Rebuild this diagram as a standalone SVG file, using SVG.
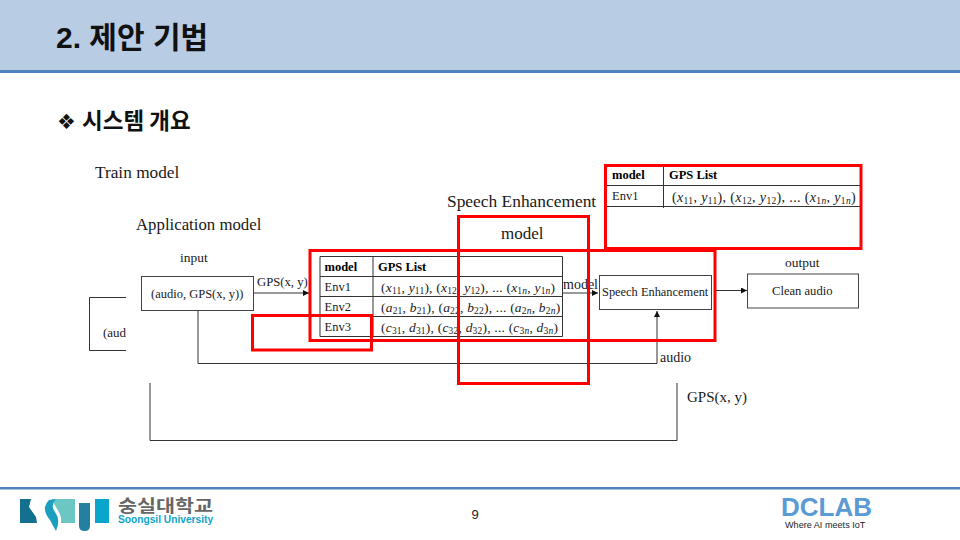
<svg xmlns="http://www.w3.org/2000/svg" width="960" height="540" viewBox="0 0 960 540">
<style>
.s{font-family:"Liberation Serif","Noto Sans CJK KR",serif;fill:#1a1a1a}
.b{font-weight:bold;font-size:12.5px;fill:#000}
.m{font-family:"Liberation Serif",serif;font-size:13.5px;fill:#1a1a1a;letter-spacing:.2px}
.t{font-size:14px;letter-spacing:.35px}
.m .i{font-style:italic}
.u{font-size:9.5px}
.box{fill:#fff;stroke:#444;stroke-width:1}
.ln{fill:none;stroke:#333;stroke-width:1}
.red{fill:none;stroke:#f00;stroke-width:3}
.k{font-family:"Noto Sans CJK KR","Liberation Sans",sans-serif;font-weight:bold;fill:#111}
</style>
<defs>
<marker id="a" markerWidth="7" markerHeight="6" refX="6" refY="3" orient="auto" markerUnits="userSpaceOnUse"><path d="M0 0L6 3L0 6Z" fill="#111"/></marker>
</defs>
<rect width="960" height="71" fill="#b8cce4"/>
<rect y="70" width="960" height="3" fill="#4f81bd"/>
<text class="k" x="56" y="48" font-size="30" style="font-family:'Liberation Sans','Noto Sans CJK KR',sans-serif">2. 제안 기법</text>
<text class="k" x="57" y="129" font-size="21" style="font-family:'DejaVu Sans',sans-serif">❖</text>
<text class="k" x="82" y="129" font-size="22.500">시스템 개요</text>

<g id="connectors">
<path class="ln" d="M254 293H309" marker-end="url(#a)"/>
<path class="ln" d="M563 293H598" marker-end="url(#a)"/>
<path class="ln" d="M716 290.500H747" marker-end="url(#a)"/>
<path class="ln" d="M198 310.500V363.500H657V311" marker-end="url(#a)"/>
<path class="ln" d="M150 383V440.500H677V383"/>
</g>

<g id="left-box">
<path class="ln" d="M126 297.500H89.500V350.500H126"/>
<text class="s" x="103" y="337" font-size="13">(aud</text>
</g>
<g id="input-node">
<rect class="box" x="141.500" y="276.500" width="112" height="34"/>
<text class="s" x="151" y="298" font-size="12.500">(audio, GPS(x, y))</text>
</g>
<g id="table-main">
<path class="ln" d="M320 256.500H562.500V336.500H320ZM320 276.500H562.500M320 296.500H562.500M320 316.500H562.500M373 256.500V336.500"/>
<text class="s b" x="324.500" y="271">model</text>
<text class="s b" x="378" y="271">GPS List</text>
<text class="s" x="324.500" y="291" font-size="12.500">Env1</text>
<text class="s" x="324.500" y="311" font-size="12.500">Env2</text>
<text class="s" x="324.500" y="331" font-size="12.500">Env3</text>
<text class="m" x="381" y="292">(<tspan class="i">x</tspan><tspan class="u" dy="2">11</tspan><tspan dy="-2">, </tspan><tspan class="i">y</tspan><tspan class="u" dy="2">11</tspan><tspan dy="-2">), (</tspan><tspan class="i">x</tspan><tspan class="u" dy="2">12</tspan><tspan dy="-2">, </tspan><tspan class="i">y</tspan><tspan class="u" dy="2">12</tspan><tspan dy="-2">), ... (</tspan><tspan class="i">x</tspan><tspan class="u" dy="2">1<tspan class="i">n</tspan></tspan><tspan dy="-2">, </tspan><tspan class="i">y</tspan><tspan class="u" dy="2">1<tspan class="i">n</tspan></tspan><tspan dy="-2">)</tspan></text>
<text class="m" x="381" y="312">(<tspan class="i">a</tspan><tspan class="u" dy="2">21</tspan><tspan dy="-2">, </tspan><tspan class="i">b</tspan><tspan class="u" dy="2">21</tspan><tspan dy="-2">), (</tspan><tspan class="i">a</tspan><tspan class="u" dy="2">22</tspan><tspan dy="-2">, </tspan><tspan class="i">b</tspan><tspan class="u" dy="2">22</tspan><tspan dy="-2">), ... (</tspan><tspan class="i">a</tspan><tspan class="u" dy="2">2<tspan class="i">n</tspan></tspan><tspan dy="-2">, </tspan><tspan class="i">b</tspan><tspan class="u" dy="2">2<tspan class="i">n</tspan></tspan><tspan dy="-2">)</tspan></text>
<text class="m" x="381" y="332">(<tspan class="i">c</tspan><tspan class="u" dy="2">31</tspan><tspan dy="-2">, </tspan><tspan class="i">d</tspan><tspan class="u" dy="2">31</tspan><tspan dy="-2">), (</tspan><tspan class="i">c</tspan><tspan class="u" dy="2">32</tspan><tspan dy="-2">, </tspan><tspan class="i">d</tspan><tspan class="u" dy="2">32</tspan><tspan dy="-2">), ... (</tspan><tspan class="i">c</tspan><tspan class="u" dy="2">3<tspan class="i">n</tspan></tspan><tspan dy="-2">, </tspan><tspan class="i">d</tspan><tspan class="u" dy="2">3<tspan class="i">n</tspan></tspan><tspan dy="-2">)</tspan></text>
</g>
<g id="table-top">
<path class="ln" d="M607 185.500H860M607 206.500H860M663.500 165V208"/>
<text class="s b" x="612" y="179">model</text>
<text class="s b" x="669" y="179">GPS List</text>
<text class="s" x="612" y="200" font-size="12.500">Env1</text>
<text class="m t" x="672" y="202">(<tspan class="i">x</tspan><tspan class="u" dy="2">11</tspan><tspan dy="-2">, </tspan><tspan class="i">y</tspan><tspan class="u" dy="2">11</tspan><tspan dy="-2">), (</tspan><tspan class="i">x</tspan><tspan class="u" dy="2">12</tspan><tspan dy="-2">, </tspan><tspan class="i">y</tspan><tspan class="u" dy="2">12</tspan><tspan dy="-2">), ... (</tspan><tspan class="i">x</tspan><tspan class="u" dy="2">1<tspan class="i">n</tspan></tspan><tspan dy="-2">, </tspan><tspan class="i">y</tspan><tspan class="u" dy="2">1<tspan class="i">n</tspan></tspan><tspan dy="-2">)</tspan></text>
</g>
<g id="speech-node">
<rect class="box" x="599.500" y="275.500" width="112" height="34"/>
<text class="s" x="602" y="296" font-size="12.400">Speech Enhancement</text>
</g>
<g id="clean-node">
<rect class="box" x="747.500" y="274" width="111" height="34"/>
<text class="s" x="772" y="295" font-size="12.600">Clean audio</text>
</g>
<g id="labels">
<text class="s" x="95" y="178" font-size="17.300">Train model</text>
<text class="s" x="447" y="207" font-size="17.400">Speech Enhancement</text>
<text class="s" x="501" y="239" font-size="17">model</text>
<text class="s" x="136" y="230" font-size="16.800">Application model</text>
<text class="s" x="180" y="262" font-size="13.500">input</text>
<text class="s" x="785" y="267" font-size="13.500">output</text>
<text class="s" x="257" y="286" font-size="12.700">GPS(x, y)</text>
<text class="s" x="563" y="289" font-size="14">model</text>
<text class="s" x="660" y="362" font-size="14">audio</text>
<text class="s" x="687" y="402" font-size="15">GPS(x, y)</text>
</g>
<g id="red-frames">
<rect class="red" x="310" y="250.500" width="405" height="90"/>
<rect class="red" x="458.500" y="216.500" width="130" height="167"/>
<rect class="red" x="252.500" y="315.500" width="119" height="34.500"/>
<rect class="red" x="605.500" y="165.500" width="255.500" height="83"/>
</g>

<rect y="487" width="960" height="2.500" fill="#4f81bd"/>
<g id="logo-ssu">
<path d="M20 499H31L29 507L36 517L37 523H20Z" fill="#156f8e"/>
<path d="M52 499H75V523H61Q62 516 57 509Q54 504 52 499Z" fill="#6cc6c4"/>
<path d="M49 500L56 499Q50 505 55 512Q61 520 56 531Q53 526 50 520Q44 513 45 507Q46 503 49 500Z" fill="#1b9fbf"/>
<path d="M79 503H90V526Q90 531 84.500 531Q79 531 79 526Z" fill="#2380a0"/>
<rect x="95" y="499" width="14" height="24" fill="#0aa5cb"/>
<text x="118" y="512" font-size="16.500" textLength="95" lengthAdjust="spacingAndGlyphs" font-weight="bold" fill="#666" style="font-family:'Noto Sans CJK KR',sans-serif">숭실대학교</text>
<text x="118" y="523" font-size="10.200" font-weight="bold" fill="#0aa5cb" style="font-family:'Liberation Sans',sans-serif">Soongsil University</text>
</g>
<text x="475" y="519" font-size="13" text-anchor="middle" fill="#222" style="font-family:'Liberation Sans',sans-serif">9</text>
<g id="logo-dclab">
<text x="781" y="516" font-size="26" font-weight="bold" fill="#5b9bd5" style="font-family:'Liberation Sans',sans-serif">DCLAB</text>
<text x="785" y="528" font-size="9.100" fill="#222" style="font-family:'Liberation Sans',sans-serif">Where AI meets IoT</text>
</g>
</svg>
